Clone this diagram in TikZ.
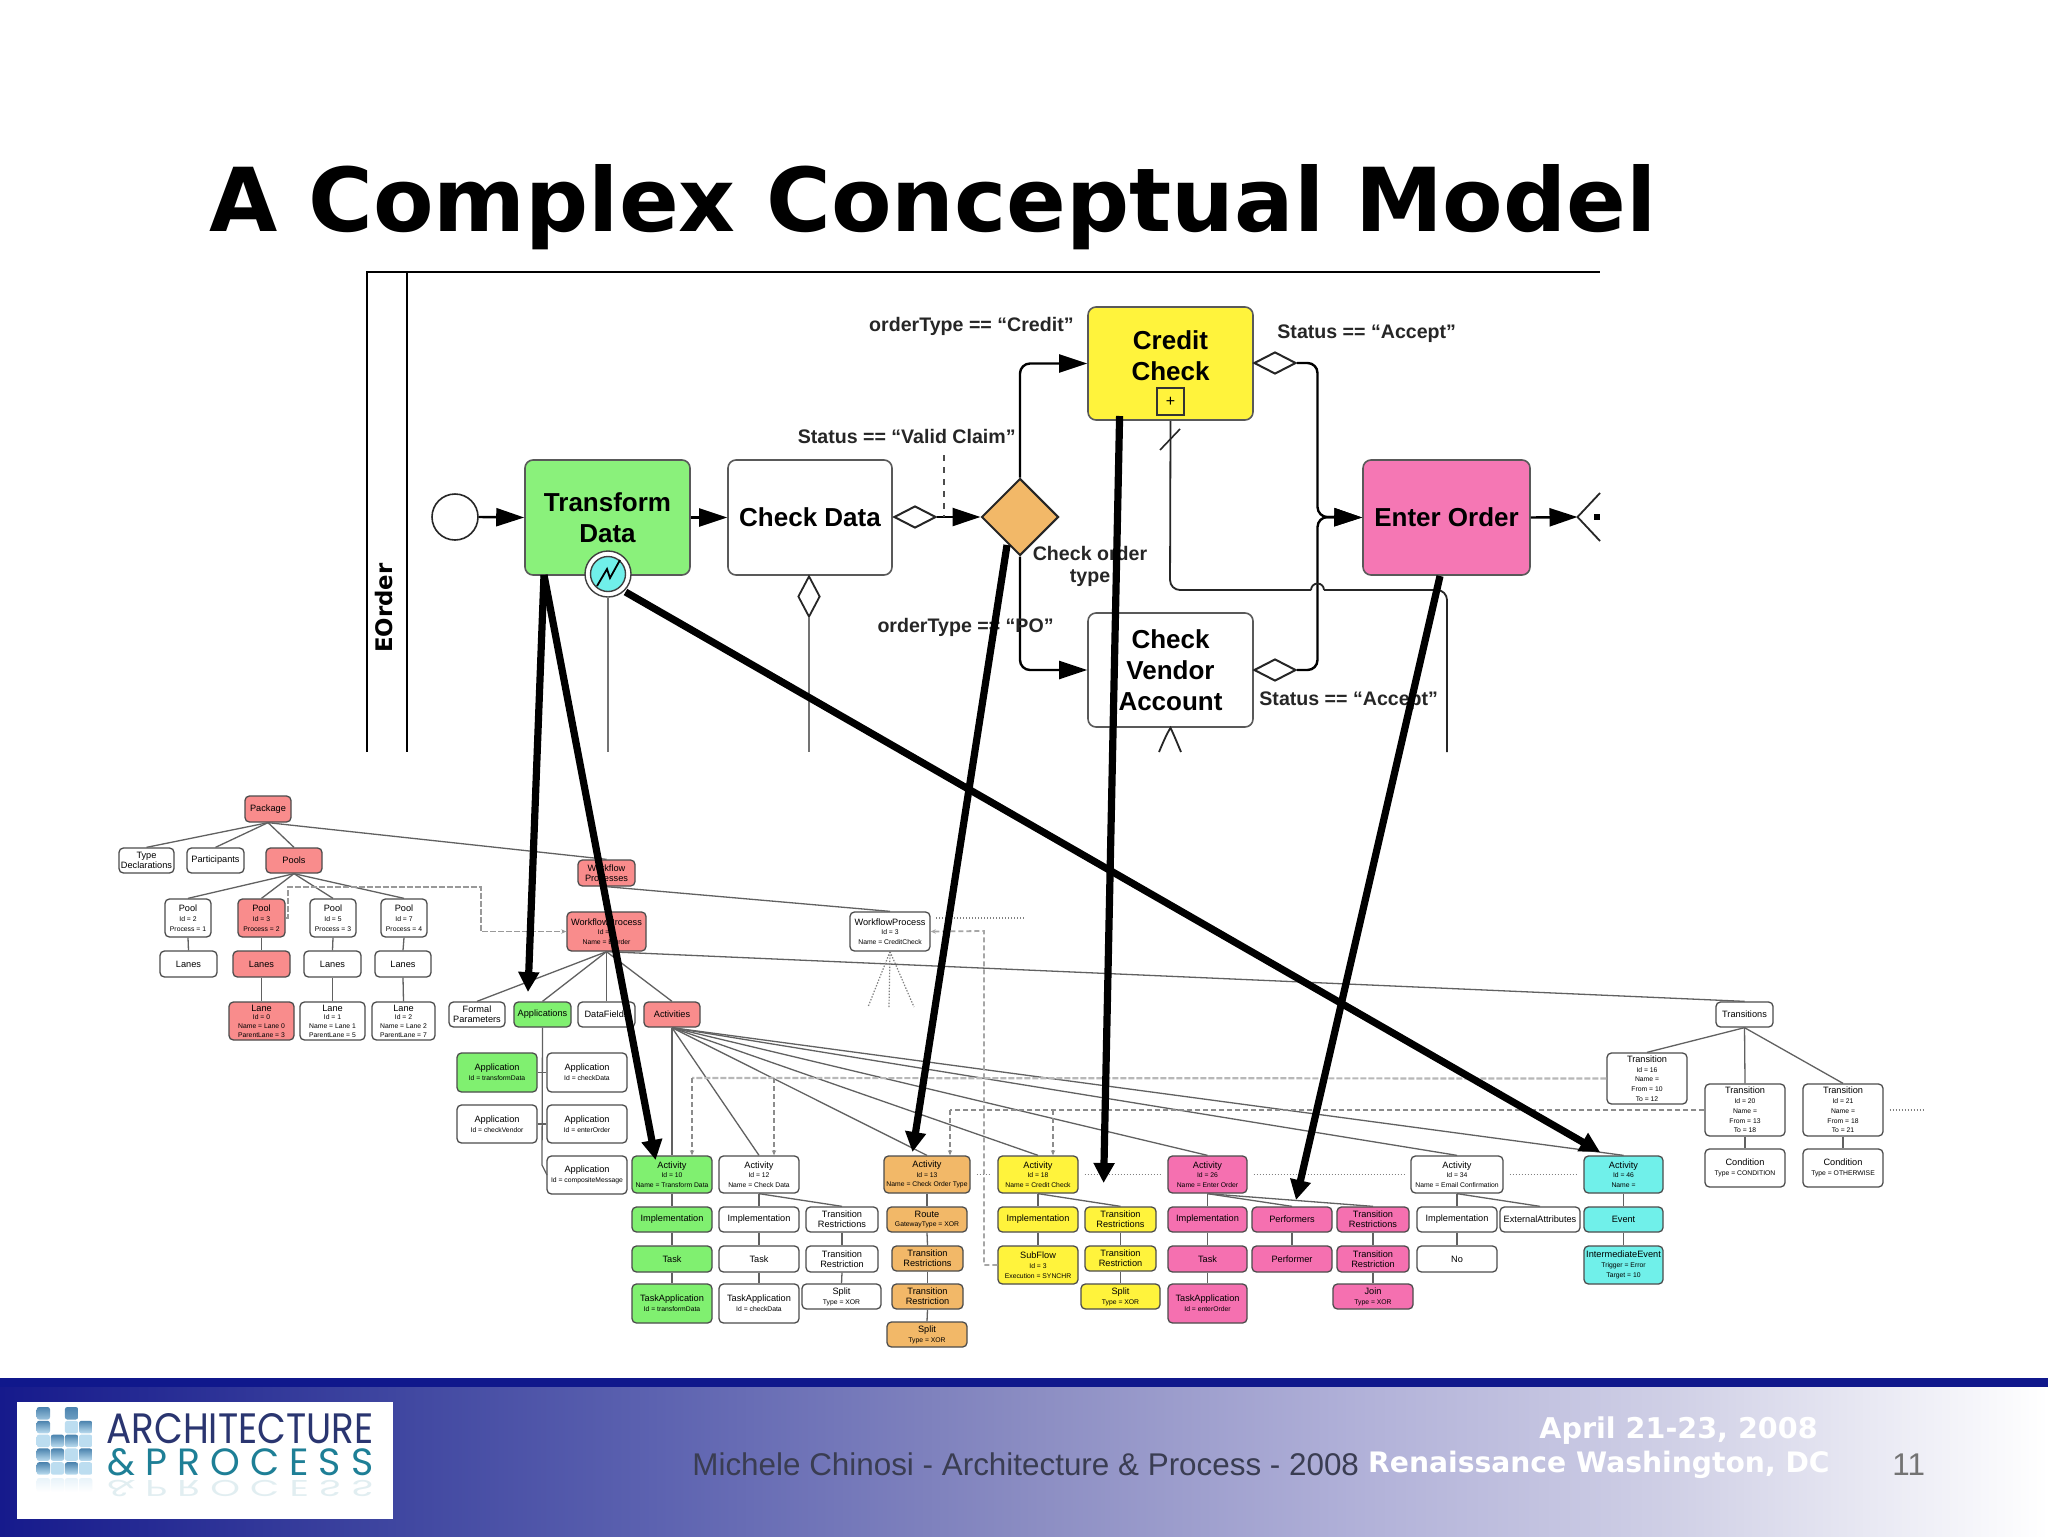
\documentclass[tikz,border=0pt]{standalone}
\usepackage{fontspec}
\usepackage{graphicx}
\setmainfont{Liberation Sans}
\newfontfamily\verdf{DejaVu Sans}
\newfontfamily\logofont{Poppins}
\usetikzlibrary{arrows.meta,shapes.geometric}
\definecolor{cred}{HTML}{F98C8C}
\definecolor{cgreen}{HTML}{80F070}
\definecolor{corange}{HTML}{F2B868}
\definecolor{cyellow}{HTML}{FFF33C}
\definecolor{cpink}{HTML}{F570B0}
\definecolor{ccyan}{HTML}{70F0EA}
\definecolor{navy}{HTML}{10188C}
\definecolor{logoblue}{HTML}{2A3570}
\definecolor{logoteal}{HTML}{1E7F96}
\definecolor{sqdark}{HTML}{4B83AE}
\definecolor{sqlight}{HTML}{BCDDF0}
\definecolor{gA}{HTML}{161A8C}
\definecolor{gB}{HTML}{3F46A0}
\definecolor{gC}{HTML}{5C62B0}
\definecolor{gD}{HTML}{8A8CC2}
\definecolor{gE}{HTML}{B0B0D8}
\definecolor{gF}{HTML}{D0D0E6}
\definecolor{gG}{HTML}{FFFFFF}
\definecolor{foottxt}{HTML}{3A3D52}
\newcommand\bx[7]{%
  \pgfmathsetmacro\bxw{(#4-#2)*0.5}\pgfmathsetmacro\bxh{(#5-#3)*0.5}%
  \pgfmathsetmacro\bxx{(#2+#4)/2}\pgfmathsetmacro\bxy{(#3+#5)/2}%
  \node[#6,minimum width=\bxw pt,minimum height=\bxh pt] (#1) at (\bxx,\bxy) {#7};}
\newcommand\sm[1]{{\fontsize{3.4}{4}\selectfont #1}}
\tikzset{
  bpbox/.style={draw=black!65,line width=.8pt,rounded corners=4pt,inner sep=0pt,align=center,
     font=\bfseries\fontsize{13}{15.5}\selectfont},
  bplabel/.style={inner sep=0pt,align=center,text=black!85,font=\bfseries\fontsize{9.8}{11}\selectfont},
  flow/.style={line width=1.2pt,-{Triangle[length=14pt,width=9pt]}},
  bpline/.style={line width=.9pt,draw=black!85},
  smalld/.style={diamond,draw=black!85,line width=1pt,fill=white,inner sep=0pt,shape aspect=1.9},
  tree/.style={draw=black!70,line width=.65pt,rounded corners=2.2pt,inner sep=0pt,align=center,
     text=black,font=\fontsize{4.6}{4.9}\selectfont},
  nwhite/.style={tree,fill=white},
  nred/.style={tree,fill=cred},
  ngreen/.style={tree,fill=cgreen},
  norange/.style={tree,fill=corange},
  nyellow/.style={tree,fill=cyellow},
  npink/.style={tree,fill=cpink},
  ncyan/.style={tree,fill=ccyan},
  tline/.style={draw=black!62,line width=.65pt},
  dashA/.style={draw=black!28,line width=1.1pt,dash pattern=on 3pt off 1pt},
  dashB/.style={draw=black!45,line width=.7pt,dash pattern=on 2.5pt off 1.5pt},
  smallhead/.style={-{Stealth[length=2.6pt,width=2.2pt]}},
  dotl/.style={draw=black!50,line width=.6pt,dash pattern=on .7pt off .8pt,shorten >=3pt,shorten <=3pt},
  bigarrow/.style={line width=3.6pt,draw=black,-{Triangle[length=10pt,width=10pt]}},
  logotile/.style={rounded corners=1.2pt,draw=none},
  foottext/.style={anchor=base west,inner sep=0pt},
}
\begin{document}
\begin{tikzpicture}[x=0.5pt,y=-0.5pt]
\useasboundingbox (0,0) rectangle (2048,1536);
\fill[white] (0,0) rectangle (2048,1536);

% ---------- title
\node[anchor=base west,inner sep=0pt,font=\verdf\bfseries\fontsize{44.1}{44}\selectfont] (title) at (209,231) {A Complex Conceptual Model};

% ---------- pool
\draw[line width=1.2pt] (367,752) -- (367,272) -- (1600,272);
\draw[line width=1pt] (407,272) -- (407,752);
\node[rotate=90,inner sep=0pt,font=\verdf\bfseries\fontsize{11.4}{12}\selectfont] (eorder) at (384,608) {EOrder};

% ---------- BPMN
\node[circle,draw=black!85,line width=.8pt,minimum size=23pt,inner sep=0pt] (se) at (455,517) {};
\bx{tf}{525}{460}{690}{575}{bpbox,fill=cgreen!92!white}{Transform\\Data}
\bx{cd}{728}{460}{892}{575}{bpbox,fill=white}{Check Data}
\bx{cc}{1088}{307}{1253}{420}{bpbox,fill=cyellow}{Credit\\Check\\[-8pt]\mbox{}}
\bx{cv}{1088}{613}{1253}{727}{bpbox,fill=white}{Check\\Vendor\\Account}
\bx{eo}{1363}{460}{1530}{575}{bpbox,fill=cpink!95!white}{Enter Order}
\node[diamond,draw=black!85,line width=1pt,fill=corange,inner sep=0pt,minimum width=38.5pt,minimum height=38.5pt] (gw) at (1020,517) {};
\node[smalld,minimum width=21pt,minimum height=11pt] (d0) at (915,517) {};
\node[smalld,minimum width=21pt,minimum height=11pt] (d1) at (1275,363) {};
\node[smalld,minimum width=21pt,minimum height=11pt] (d2) at (1275,670) {};
\node[diamond,draw=black!85,line width=.9pt,fill=white,inner sep=0pt,minimum width=11pt,minimum height=20.5pt,shape aspect=.55] (d3) at (809,596.5) {};
\bx{plus}{1157}{388}{1184}{415}{draw=black!80,line width=.8pt,inner sep=0pt,font=\fontsize{8}{8}\selectfont}{+}

\node[circle,draw=black!75,line width=.7pt,fill=white,minimum size=23pt,inner sep=0pt] (ev) at (608,574) {};
\node[circle,draw=black!75,line width=.7pt,fill=ccyan,minimum size=17.5pt,inner sep=0pt] (evi) at (608,574) {};
\draw[line width=.9pt] (597,586) -- (607,569) -- (610,578) -- (620,560);

\draw[flow] (se.east) -- (tf.west);
\draw[flow] (tf.east) -- (cd.west);
\draw[flow] (d0.east) -- (gw.west);
\coordinate (vg) at (944,455);
\draw[draw=black!70,dashed,line width=.6pt] (vg) -- (944,517);
\draw[flow,rounded corners=5pt] (gw.north) |- (cc.west);
\draw[flow,rounded corners=5pt] (gw.south) |- (cv.west);
\coordinate (mj) at (1317.5,517);
\draw[flow,rounded corners=5pt] (d1.east) -- (mj|-d1) -- (mj) -- (eo.west);
\draw[flow,rounded corners=5pt] (d2.east) -- (mj|-d2) -- (mj) -- (eo.west);
\draw[bpline,rounded corners=5pt] (cc.south) -- (1170,590) -- (1311,590);
\draw[bpline] (1311,590) arc[start angle=180,end angle=360,radius=6.5];
\draw[bpline,rounded corners=5pt] (1324,590) -- (1447,590) -- (1447,752);
\draw[bpline,line width=.8pt] (1160,450) -- (1180,429);
\draw[bpline,draw=black!55,line width=.8pt] (d3.south) -- (809,752);
\draw[bpline,draw=black!55,line width=.8pt] (ev.south) -- (608,752);
\draw[bpline,line width=.9pt] (1159,752) .. controls (1162,745) and (1166,735) .. (cv.south) .. controls (1174,735) and (1178,745) .. (1181,752);
\coordinate (apex) at (1577.5,517);
\draw[flow] (eo.east) -- (apex);
\draw[bpline] (1600,493) -- (apex) -- (1600,541);
\fill (1594,514) rectangle (1600,520);

\node[bplabel,anchor=east] (l1) at (1074,326) {orderType == “Credit”};
\node[bplabel,anchor=east] (l2) at (1016,436) {Status == “Valid Claim”};
\node[bplabel,anchor=west] (l3) at (1277,334) {Status == “Accept”};
\node[bplabel] (l4) at (1090,566) {Check order\\type};
\node[bplabel,anchor=east] (l5) at (1054,627) {orderType == “PO”};
\node[bplabel,anchor=west] (l6) at (1259,701) {Status == “Accept”};

% ---------- tree, left part
\bx{pk}{245}{796}{291}{822}{nred}{Package}
\bx{td}{119}{848}{174}{873}{nwhite}{Type\\Declarations}
\bx{pa}{187}{848}{244}{873}{nwhite}{Participants}
\bx{ps}{266}{848}{322}{873}{nred}{Pools}
\bx{wps}{578}{860}{635}{886}{nred}{Workflow\\Processes}
\bx{p1}{165}{899}{211}{937}{nwhite}{Pool\\\sm{Id = 2}\\\sm{Process = 1}}
\bx{p2}{238}{899}{285}{937}{nred}{Pool\\\sm{Id = 3}\\\sm{Process = 2}}
\bx{p3}{310}{899}{356}{937}{nwhite}{Pool\\\sm{Id = 5}\\\sm{Process = 3}}
\bx{p4}{381}{899}{427}{937}{nwhite}{Pool\\\sm{Id = 7}\\\sm{Process = 4}}
\bx{ls1}{160}{951}{217}{977}{nwhite}{Lanes}
\bx{ls2}{233}{951}{290}{977}{nred}{Lanes}
\bx{ls3}{304}{951}{361}{977}{nwhite}{Lanes}
\bx{ls4}{375}{951}{431}{977}{nwhite}{Lanes}
\bx{ln2}{229}{1002}{294}{1040}{nred,font=\fontsize{4.6}{4.3}\selectfont}{Lane\\\sm{Id = 0}\\\sm{Name = Lane 0}\\\sm{ParentLane = 3}}
\bx{ln3}{300}{1002}{365}{1040}{nwhite,font=\fontsize{4.6}{4.3}\selectfont}{Lane\\\sm{Id = 1}\\\sm{Name = Lane 1}\\\sm{ParentLane = 5}}
\bx{ln4}{372}{1002}{435}{1040}{nwhite,font=\fontsize{4.6}{4.3}\selectfont}{Lane\\\sm{Id = 2}\\\sm{Name = Lane 2}\\\sm{ParentLane = 7}}
\bx{wp1}{567}{912}{646}{951}{nred}{WorkflowProcess\\\sm{Id = 1}\\\sm{Name = EOrder}}
\bx{wp2}{850}{912}{930}{951}{nwhite}{WorkflowProcess\\\sm{Id = 3}\\\sm{Name = CreditCheck}}
\bx{fp}{449}{1002}{505}{1027}{nwhite}{Formal\\Parameters}
\bx{aps}{514}{1002}{571}{1027}{ngreen}{Applications}
\bx{dfs}{578}{1002}{635}{1027}{nwhite}{DataFields}
\bx{acs}{644}{1002}{700}{1027}{nred}{Activities}
\bx{ap1}{457}{1053}{537}{1092}{ngreen}{Application\\\sm{Id = transformData}}
\bx{ap2}{547}{1053}{627}{1092}{nwhite}{Application\\\sm{Id = checkData}}
\bx{ap3}{457}{1105}{537}{1143}{nwhite}{Application\\\sm{Id = checkVendor}}
\bx{ap4}{547}{1105}{627}{1143}{nwhite}{Application\\\sm{Id = enterOrder}}
\bx{ap5}{547}{1156}{627}{1194}{nwhite}{Application\\\sm{Id = compositeMessage}}

% green column
\bx{ga}{632}{1156}{712}{1193}{ngreen}{Activity\\\sm{Id = 10}\\\sm{Name = Transform Data}}
\bx{gi}{632}{1207}{712}{1232}{ngreen}{Implementation}
\bx{gt}{632}{1246}{712}{1272}{ngreen}{Task}
\bx{gta}{632}{1284}{712}{1323}{ngreen}{TaskApplication\\\sm{Id = transformData}}
% white column
\bx{wa}{719}{1156}{799}{1193}{nwhite}{Activity\\\sm{Id = 12}\\\sm{Name = Check Data}}
\bx{wi}{719}{1207}{799}{1232}{nwhite}{Implementation}
\bx{wt}{719}{1246}{799}{1272}{nwhite}{Task}
\bx{wta}{719}{1284}{799}{1323}{nwhite}{TaskApplication\\\sm{Id = checkData}}
\bx{wr}{806}{1207}{878}{1232}{nwhite}{Transition\\Restrictions}
\bx{wr2}{806}{1246}{878}{1272}{nwhite}{Transition\\Restriction}
\bx{ws}{802}{1284}{881}{1309}{nwhite}{Split\\\sm{Type = XOR}}
% orange column
\bx{oa}{884}{1156}{970}{1193}{norange}{Activity\\\sm{Id = 13}\\\sm{Name = Check Order Type}}
\bx{oro}{887}{1207}{967}{1232}{norange}{Route\\\sm{GatewayType = XOR}}
\bx{or1}{892}{1246}{963}{1271}{norange}{Transition\\Restrictions}
\bx{or2}{892}{1284}{963}{1309}{norange}{Transition\\Restriction}
\bx{os}{887}{1322}{967}{1347}{norange}{Split\\\sm{Type = XOR}}
% yellow column
\bx{ya}{998}{1156}{1078}{1193}{nyellow}{Activity\\\sm{Id = 18}\\\sm{Name = Credit Check}}
\bx{yi}{998}{1207}{1078}{1232}{nyellow}{Implementation}
\bx{ysf}{998}{1246}{1078}{1284}{nyellow}{SubFlow\\\sm{Id = 3}\\\sm{Execution = SYNCHR}}
\bx{yr}{1085}{1207}{1156}{1232}{nyellow}{Transition\\Restrictions}
\bx{yr2}{1085}{1246}{1156}{1271}{nyellow}{Transition\\Restriction}
\bx{ys}{1081}{1284}{1160}{1309}{nyellow}{Split\\\sm{Type = XOR}}
% pink column
\bx{na}{1168}{1156}{1247}{1193}{npink}{Activity\\\sm{Id = 26}\\\sm{Name = Enter Order}}
\bx{ni}{1168}{1207}{1247}{1232}{npink}{Implementation}
\bx{nt}{1168}{1246}{1247}{1272}{npink}{Task}
\bx{nta}{1168}{1284}{1247}{1323}{npink}{TaskApplication\\\sm{Id = enterOrder}}
\bx{nps}{1252}{1207}{1332}{1232}{npink}{Performers}
\bx{npf}{1252}{1246}{1332}{1272}{npink}{Performer}
\bx{nr}{1337}{1207}{1409}{1232}{npink}{Transition\\Restrictions}
\bx{nr2}{1337}{1246}{1409}{1272}{npink}{Transition\\Restriction}
\bx{nj}{1333}{1284}{1413}{1309}{npink}{Join\\\sm{Type = XOR}}
% white 2
\bx{xa}{1411}{1156}{1503}{1193}{nwhite}{Activity\\\sm{Id = 34}\\\sm{Name = Email Confirmation}}
\bx{xi}{1417}{1207}{1497}{1232}{nwhite}{Implementation}
\bx{xn}{1417}{1246}{1497}{1272}{nwhite}{No}
\bx{xe}{1500}{1207}{1580}{1232}{nwhite}{ExternalAttributes}
% cyan
\bx{ca}{1584}{1156}{1663}{1193}{ncyan}{Activity\\\sm{Id = 46}\\\sm{Name =}}
\bx{ce}{1584}{1207}{1663}{1232}{ncyan}{Event}
\bx{cie}{1584}{1246}{1663}{1284}{ncyan}{IntermediateEvent\\\sm{Trigger = Error}\\\sm{Target = 10}}
% transitions
\bx{ts}{1716}{1002}{1773}{1027}{nwhite}{Transitions}
\bx{t1}{1607}{1053}{1687}{1104}{nwhite}{Transition\\\sm{Id = 16}\\\sm{Name =}\\\sm{From = 10}\\\sm{To = 12}}
\bx{t2}{1705}{1084}{1785}{1136}{nwhite}{Transition\\\sm{Id = 20}\\\sm{Name =}\\\sm{From = 13}\\\sm{To = 18}}
\bx{t3}{1803}{1084}{1883}{1136}{nwhite}{Transition\\\sm{Id = 21}\\\sm{Name =}\\\sm{From = 18}\\\sm{To = 21}}
\bx{cn2}{1705}{1149}{1785}{1187}{nwhite}{Condition\\\sm{Type = CONDITION}}
\bx{cn3}{1803}{1149}{1883}{1187}{nwhite}{Condition\\\sm{Type = OTHERWISE}}

% tree connectors
\foreach \a/\b in {pk/td,pk/pa,pk/ps,pk/wps,ps/p1,ps/p2,ps/p3,ps/p4,p1/ls1,p2/ls2,p3/ls3,p4/ls4,
  ls2/ln2,ls3/ln3,ls4/ln4,wps/wp2,wps/wp1,wp1/fp,wp1/aps,wp1/dfs,wp1/acs,wp1/ts,
  acs/ga,acs/wa,acs/oa,acs/ya,acs/na,acs/xa,acs/ca,
  ga/gi,gi/gt,gt/gta,wa/wi,wi/wt,wt/wta,wa/wr,wr/wr2,wr2/ws,
  oa/oro,oro/or1,or1/or2,or2/os,ya/yi,yi/ysf,ya/yr,yr/yr2,yr2/ys,
  na/ni,ni/nt,nt/nta,na/nps,nps/npf,na/nr,nr/nr2,nr2/nj,
  xa/xi,xi/xn,xa/xe,ca/ce,ce/cie,ts/t1,ts/t2,ts/t3,t2/cn2,t3/cn3}
  {\draw[tline] (\a.south) -- (\b.north);}
\draw[tline] (aps.south) -- (542,1165) -- (547,1175);
\draw[tline] (ap1.east) -- (ap2.west);
\draw[tline] (ap3.east) -- (ap4.west);

% dashed message lines
\coordinate (dA) at (692,1078);
\coordinate (dAb) at (774,1078);
\draw[dashA] (t1.west) -- (dA);
\draw[dashB,smallhead] (dA) -- (dA|-ga.north);
\draw[dashB,smallhead] (dAb) -- (dAb|-wa.north);
\coordinate (dB) at (950,1110);
\coordinate (dBb) at (1053,1110);
\draw[dashB] (t2.west) -- (dB);
\draw[dashB,smallhead] (dB) -- (dB|-oa.north);
\draw[dashB,smallhead] (dBb) -- (dBb|-ya.north);
\coordinate (dC) at (984,931);
\draw[dashB,draw=black!35,line width=.9pt,smallhead] (ysf.west) -- (dC|-ysf.west) -- (dC) -- (wp2.east);
\coordinate (dD) at (288,887);
\coordinate (dE) at (481,887);
\draw[dashA,draw=black!40,line width=.8pt,smallhead] (p2.east) -- (dD|-p2.east) -- (dD) -- (dE) -- (dE|-wp1.west) -- (wp1.west);

% dotted lines
\draw[dotl] (oa.east) -- (ya.west);
\draw[dotl] (ya.east) -- (na.west);
\draw[dotl] (na.east) -- (xa.west);
\draw[dotl] (xa.east) -- (ca.west);
\coordinate (dF) at (1930,1110);
\draw[dotl] (t3.east) -- (dF);
\coordinate (dG) at (930,918);
\coordinate (dH) at (1030,918);
\draw[dotl] (dG) -- (dH);
\foreach \tx in {868,889,914}{\draw[dotl,shorten <=0pt,shorten >=0pt] (wp2.south) -- (\tx,1007);}

% thick black arrows
\coordinate (as1) at (544,575);
\coordinate (at1) at (528,992);
\coordinate (at2) at (655.6,1160);
\coordinate (as3) at (625.5,592);
\coordinate (at3) at (1600,1152);
\coordinate (as4) at (1007,545);
\coordinate (at4) at (912.5,1152);
\coordinate (as5) at (1119.6,416);
\coordinate (at5) at (1103.6,1183);
\coordinate (as6) at (1440,576);
\coordinate (at6) at (1296,1200);
\draw[bigarrow] (as1) -- (at1);
\draw[bigarrow] (as1) -- (at2);
\draw[bigarrow] (as3) -- (at3);
\draw[bigarrow] (as4) -- (at4);
\draw[bigarrow] (as5) -- (at5);
\draw[bigarrow] (as6) -- (at6);

% ---------- footer
\foreach \xa/\xb/\ca/\cb in {0/392/gA/gB,391/653/gB/gC,652/1024/gC/gD,1023/1350/gD/gE,1349/1677/gE/gF,1676/2048/gF/gG}
  {\shade[left color=\ca,right color=\cb] (\xa,1387) rectangle (\xb,1536);}
\fill[navy] (0,1378) rectangle (2048,1387);

% logo
\fill[white] (17,1402) rectangle (393,1519);
\foreach \c/\r/\t/\b in {0/0/sqdark/sqlight!70!sqdark,0/1/sqdark/sqlight,0/2/sqlight/sqlight,0/3/sqdark/sqlight,0/4/sqdark/sqlight,
  1/2/sqdark/sqlight,1/3/sqdark/sqlight,1/4/sqlight/sqlight,
  2/0/sqdark/sqdark!70!sqlight,2/1/sqlight/sqlight,2/2/sqdark/sqlight,2/3/sqlight/sqlight,2/4/sqdark/sqlight,
  3/1/sqdark/sqlight,3/2/sqlight/sqlight,3/3/sqdark/sqlight,3/4/sqlight/sqlight}
  {\pgfmathsetmacro\sqx{36.7+14.1*\c}\pgfmathsetmacro\sqy{1407+13.8*\r}
   \shade[logotile,top color=\t,bottom color=\b] (\sqx,\sqy) rectangle ++(13.3,12.5);}
\foreach \c in {0,1,2,3}
  {\pgfmathsetmacro\sqx{36.7+14.1*\c}
   \shade[logotile,top color=sqlight!35,bottom color=white] (\sqx,1478) rectangle ++(13.3,14);}
\node[inner sep=0pt,anchor=base west,text=logoblue] (lg1) at (106,1443) {\resizebox{133.5pt}{15pt}{\logofont ARCHITECTURE}};
\node[inner sep=0pt,anchor=base west,text=logoteal] (lg2) at (107,1475) {\resizebox{133pt}{13.5pt}{\logofont \& P R O C E S S}};
\node[inner sep=0pt,anchor=north west,text=logoteal,opacity=.13] (lg3) at (107,1480) {\resizebox{133pt}{-8pt}{\logofont \& P R O C E S S}};

% footer texts
\node[foottext,text=foottxt,font=\fontsize{15.7}{16}\selectfont] (ftm) at (692,1475) {Michele Chinosi - Architecture \& Process - 2008};
\node[anchor=base east,inner sep=0pt,text=white,font=\verdf\bfseries\fontsize{14.3}{16}\selectfont] (fta) at (1818,1438) {April 21-23, 2008};
\node[anchor=base east,inner sep=0pt,text=white,font=\verdf\bfseries\fontsize{14.1}{16}\selectfont] (ftr) at (1830,1472) {Renaissance Washington, DC};
\node[foottext,text=black!55,font=\fontsize{15.7}{16}\selectfont] (ftn) at (1892,1475) {11};
\end{tikzpicture}
\end{document}
